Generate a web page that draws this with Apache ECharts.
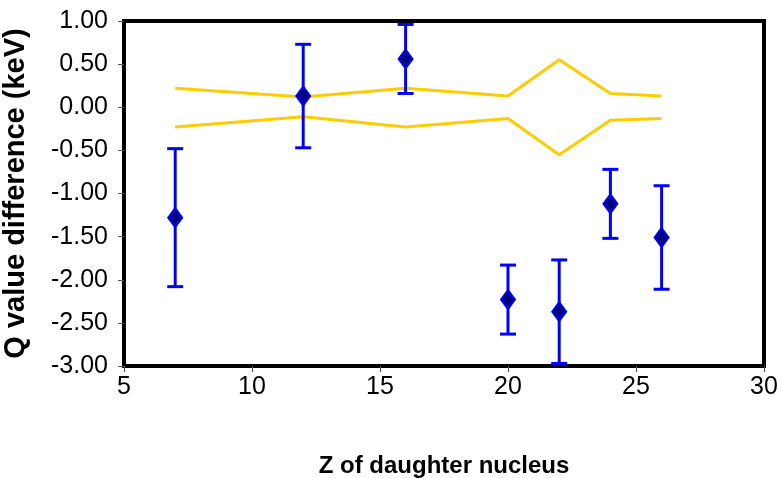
<!DOCTYPE html>
<html>
<head>
<meta charset="utf-8">
<script src="https://cdn.jsdelivr.net/npm/echarts@6/dist/echarts.min.js"></script>
<style>html,body{margin:0;padding:0;background:#fff}#c{width:781px;height:478px}</style>
</head>
<body>
<div id="c"></div>
<script>
const zValues = [7, 12, 16, 20, 22, 24, 26];
const qDiff = [-1.28, 0.13, 0.56, -2.23, -2.37, -1.12, -1.51];
const qErr = [0.80, 0.60, 0.40, 0.40, 0.60, 0.40, 0.60];
const bandUpper = [0.22, 0.12, 0.22, 0.13, 0.55, 0.16, 0.13];
const bandLower = [-0.23, -0.11, -0.23, -0.13, -0.55, -0.15, -0.13];
const xTicks = [5, 10, 15, 20, 25, 30];
const yTicks = [-3, -2.5, -2, -1.5, -1, -0.5, 0, 0.5, 1];

const chart = echarts.init(document.getElementById('c'));
const font = 'Liberation Sans, Arial, sans-serif';
const errData = zValues.map((z, i) => [z, qDiff[i] - qErr[i], qDiff[i] + qErr[i]]);

chart.setOption({
  animation: false,
  backgroundColor: '#ffffff',
  grid: { left: 124, right: 17, top: 21, bottom: 112, show: true, borderColor: '#000', borderWidth: 4, backgroundColor: 'transparent', outerBoundsMode: 'none', containLabel: false },
  xAxis: {
    type: 'value', min: xTicks[0], max: xTicks[xTicks.length - 1], interval: 5,
    name: 'Z of daughter nucleus', nameLocation: 'middle', nameGap: 88,
    nameTextStyle: { fontFamily: font, fontWeight: 'bold', fontSize: 24, color: '#000' },
    axisLine: { show: false, onZero: false },
    axisTick: { show: true, length: 6, lineStyle: { color: '#555', width: 1 } },
    axisLabel: { fontFamily: font, fontSize: 25, color: '#000', margin: 9 },
    splitLine: { show: false }
  },
  yAxis: {
    type: 'value', min: yTicks[0], max: yTicks[yTicks.length - 1], interval: 0.5,
    name: 'Q value difference (keV)', nameLocation: 'middle', nameGap: 94,
    nameTextStyle: { fontFamily: font, fontWeight: 'bold', fontSize: 29, color: '#000' },
    axisLine: { show: false, onZero: false },
    axisTick: { show: true, length: 6, lineStyle: { color: '#555', width: 1 } },
    axisLabel: { fontFamily: font, fontSize: 25, color: '#000', margin: 16, formatter: v => v.toFixed(2) },
    splitLine: { show: false }
  },
  series: [
    { type: 'line', data: zValues.map((z, i) => [z, bandUpper[i]]), symbol: 'none', lineStyle: { color: '#FFCC00', width: 3 }, z: 2 },
    { type: 'line', data: zValues.map((z, i) => [z, bandLower[i]]), symbol: 'none', lineStyle: { color: '#FFCC00', width: 3 }, z: 2 },
    {
      type: 'custom', data: errData, z: 3,
      renderItem: function (params, api) {
        const x = api.value(0);
        const lo = api.coord([x, api.value(1)]);
        const hi = api.coord([x, api.value(2)]);
        const w = 8;
        const st = { stroke: '#0000FF', lineWidth: 3 };
        return { type: 'group', children: [
          { type: 'line', shape: { x1: hi[0], y1: hi[1], x2: lo[0], y2: lo[1] }, style: st },
          { type: 'line', shape: { x1: hi[0] - w, y1: hi[1], x2: hi[0] + w, y2: hi[1] }, style: st },
          { type: 'line', shape: { x1: lo[0] - w, y1: lo[1], x2: lo[0] + w, y2: lo[1] }, style: st }
        ] };
      }
    },
    {
      type: 'scatter', data: zValues.map((z, i) => [z, qDiff[i]]), z: 4,
      symbol: 'diamond', symbolSize: [14, 19],
      itemStyle: { color: '#000080', borderColor: '#0000FF', borderWidth: 2, opacity: 1 }
    }
  ]
});
</script>
</body>
</html>
